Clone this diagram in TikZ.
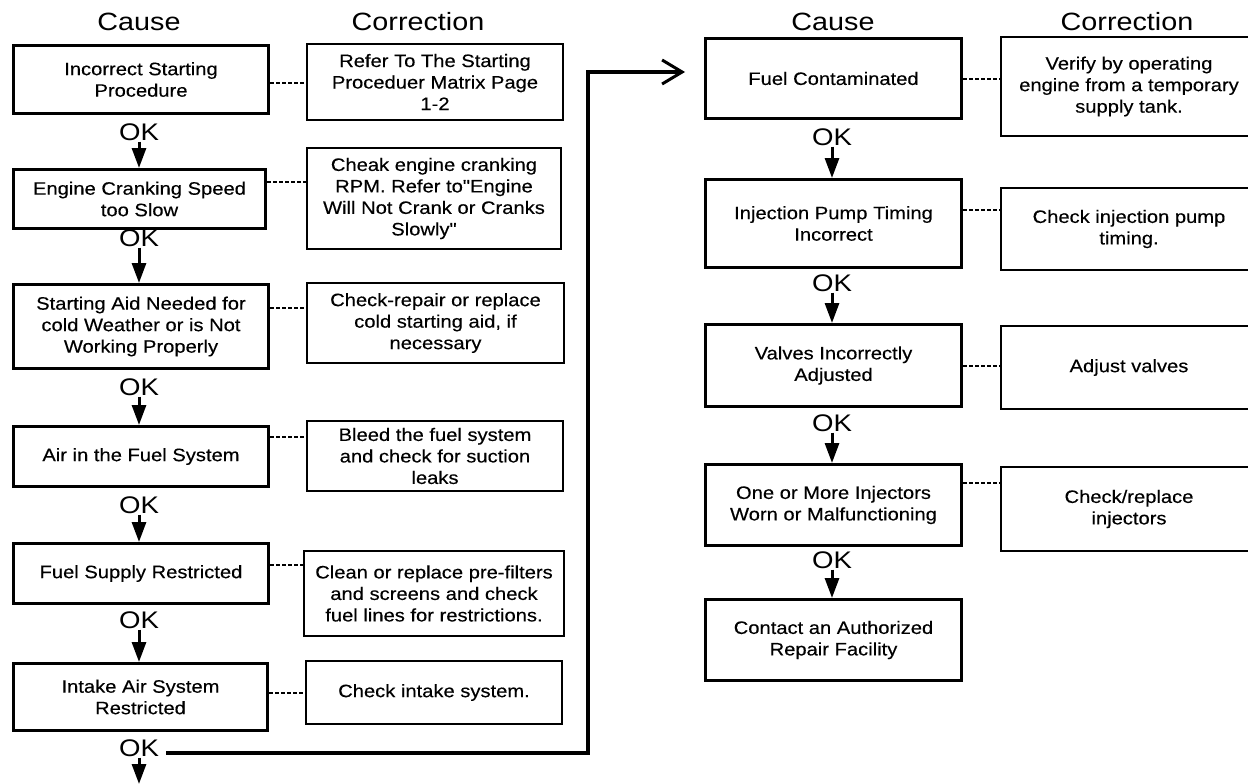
\documentclass[tikz,border=0pt]{standalone}
\usepackage{fontspec}
\newfontfamily\boxfont{Liberation Sans}[FakeStretch=1.12, FakeBold=0.3]
\newfontfamily\headfont{Liberation Sans}[FakeStretch=1.15]
\usetikzlibrary{arrows.meta}
\begin{document}
\begin{tikzpicture}[x=1pt,y=-1pt,
  txt/.style={font=\boxfont\fontsize{18}{21.5}\selectfont, align=center, inner sep=0pt},
  causebox/.style={txt, draw, line width=3pt, anchor=north west},
  corrbox/.style={txt, draw, line width=2pt, anchor=north west},
  head/.style={font=\headfont\fontsize{25}{28}\selectfont, inner sep=0pt},
  oklabel/.style={font=\headfont\fontsize{24}{26}\selectfont, inner sep=1pt},
  downarrow/.style={line width=3pt, -{Triangle[length=20pt,width=14pt]}},
  conn/.style={line width=1.8pt, dash pattern=on 4pt off 2pt},
  bigline/.style={line width=4.5pt, -{Straight Barb[length=20pt,width=24pt,line width=3pt]}}
]
\useasboundingbox (0,0) rectangle (1248,784);

% headers
\node[head] (hc1) at (139,22) {Cause};
\node[head] (hr1) at (418,22) {Correction};
\node[head] (hc2) at (833,22) {Cause};
\node[head] (hr2) at (1127,22) {Correction};

% left cause boxes
\node[causebox, minimum width=255pt, minimum height=68pt] (a1) at (12,44) {Incorrect Starting\\Procedure};
\node[causebox, minimum width=252pt, minimum height=59pt] (a2) at (12,168) {Engine Cranking Speed\\too Slow};
\node[causebox, minimum width=255pt, minimum height=84pt] (a3) at (12,283) {Starting Aid Needed for\\cold Weather or is Not\\Working Properly};
\node[causebox, minimum width=255pt, minimum height=60pt] (a4) at (12,425) {Air in the Fuel System};
\node[causebox, minimum width=255pt, minimum height=60pt] (a5) at (12,542) {Fuel Supply Restricted};
\node[causebox, minimum width=254pt, minimum height=67pt] (a6) at (12,662) {Intake Air System\\Restricted};

% left correction boxes
\node[corrbox, minimum width=256pt, minimum height=76pt] (c1) at (306,43) {Refer To The Starting\\Proceduer Matrix Page\\1-2};
\node[corrbox, minimum width=254pt, minimum height=101pt] (c2) at (306,147) {Cheak engine cranking\\RPM. Refer to"Engine\\Will Not Crank or Cranks\\Slowly"\hspace*{20pt}};
\node[corrbox, minimum width=257pt, minimum height=80pt] (c3) at (306,282) {Check-repair or replace\\cold starting aid, if\\necessary};
\node[corrbox, minimum width=256pt, minimum height=70pt] (c4) at (306,420) {Bleed the fuel system\\and check for suction\\leaks};
\node[corrbox, minimum width=260pt, minimum height=85pt] (c5) at (303,550) {Clean or replace pre-filters\\and screens and check\\fuel lines for restrictions.};
\node[corrbox, minimum width=256pt, minimum height=63pt] (c6) at (305,660) {Check intake system.};

% right cause boxes
\node[causebox, minimum width=256pt, minimum height=80pt] (r1) at (704,37) {Fuel Contaminated};
\node[causebox, minimum width=256pt, minimum height=88pt] (r2) at (704,178) {Injection Pump Timing\\Incorrect};
\node[causebox, minimum width=256pt, minimum height=82pt] (r3) at (704,323) {Valves Incorrectly\\Adjusted};
\node[causebox, minimum width=256pt, minimum height=81pt] (r4) at (704,463) {One or More Injectors\\Worn or Malfunctioning};
\node[causebox, minimum width=256pt, minimum height=81pt] (r5) at (704,598) {Contact an Authorized\\Repair Facility};

% right correction boxes
\node[corrbox, minimum width=256pt, minimum height=99pt] (s1) at (1000,36) {Verify by operating\\engine from a temporary\\supply tank.};
\node[corrbox, minimum width=256pt, minimum height=82pt] (s2) at (1000,187) {Check injection pump\\timing.};
\node[corrbox, minimum width=256pt, minimum height=83pt] (s3) at (1000,325) {Adjust valves};
\node[corrbox, minimum width=256pt, minimum height=84pt] (s4) at (1000,466) {Check/replace\\injectors};

% OK labels
\node[oklabel] (k1) at (139,132) {OK};
\node[oklabel] (k2) at (139,238) {OK};
\node[oklabel] (k3) at (139,387) {OK};
\node[oklabel] (k4) at (139,505) {OK};
\node[oklabel] (k5) at (139,620) {OK};
\node[oklabel] (k6) at (139,748) {OK};
\node[oklabel] (q1) at (832,137) {OK};
\node[oklabel] (q2) at (832,283) {OK};
\node[oklabel] (q3) at (832,423) {OK};
\node[oklabel] (q4) at (832,560) {OK};

\coordinate (bottomend) at (139,784);
\coordinate (turn) at (588,72);

% down arrows
\draw[downarrow] (k1.south) -- (k1.south |- a2.north);
\draw[downarrow] (k2.south) -- (k2.south |- a3.north);
\draw[downarrow] (k3.south) -- (k3.south |- a4.north);
\draw[downarrow] (k4.south) -- (k4.south |- a5.north);
\draw[downarrow] (k5.south) -- (k5.south |- a6.north);
\draw[downarrow] (k6.south) -- (bottomend);
\draw[downarrow] (q1.south) -- (q1.south |- r2.north);
\draw[downarrow] (q2.south) -- (q2.south |- r3.north);
\draw[downarrow] (q3.south) -- (q3.south |- r4.north);
\draw[downarrow] (q4.south) -- (q4.south |- r5.north);

% dashed connectors
\draw[conn] (a1.east |- 0,83) -- (c1.west |- 0,83);
\draw[conn] (a2.east |- 0,182) -- (c2.west |- 0,182);
\draw[conn] (a3.east |- 0,308) -- (c3.west |- 0,308);
\draw[conn] (a4.east |- 0,437) -- (c4.west |- 0,437);
\draw[conn] (a5.east |- 0,565) -- (c5.west |- 0,565);
\draw[conn] (a6.east |- 0,693) -- (c6.west |- 0,693);
\draw[conn] (r1.east |- 0,79) -- (s1.west |- 0,79);
\draw[conn] (r2.east |- 0,210) -- (s2.west |- 0,210);
\draw[conn] (r3.east |- 0,366) -- (s3.west |- 0,366);
\draw[conn] (r4.east |- 0,483) -- (s4.west |- 0,483);

% big connector
\draw[bigline] ([xshift=6pt,yshift=-5pt]k6.east) -| (turn) -- ([xshift=-19pt]r1.west |- turn);
\end{tikzpicture}
\end{document}
